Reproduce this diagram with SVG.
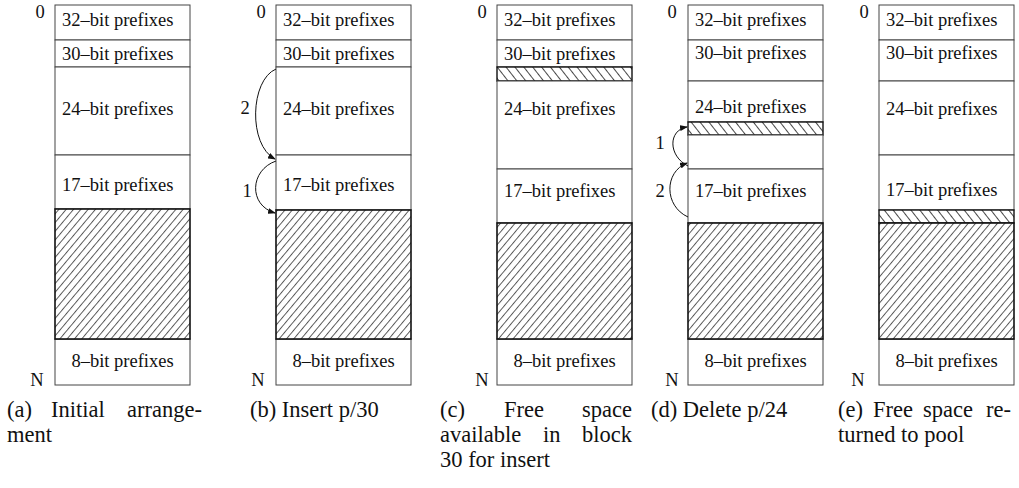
<svg xmlns="http://www.w3.org/2000/svg" width="1019" height="488" viewBox="0 0 1019 488">
<style>
text{font-family:"Liberation Serif","Times New Roman",serif;fill:#111}
.t{font-size:18.5px}
.c{font-size:22.5px}
.m{text-anchor:middle}
.e{text-anchor:end}
.box{fill:#fff;stroke:#444;stroke-width:1}
.hf{fill:url(#fwd);stroke:#111;stroke-width:1.6}
.hb{fill:url(#bwd);stroke:#111;stroke-width:1.4}
.arr{fill:none;stroke:#111;stroke-width:1;marker-end:url(#ah)}
</style>
<defs>
<pattern id="fwd" width="5.6" height="10" patternUnits="userSpaceOnUse" patternTransform="rotate(40)">
<rect width="5.6" height="10" fill="#fff"/>
<line x1="0.5" y1="-1" x2="0.5" y2="11" stroke="#444" stroke-width="0.9"/>
</pattern>
<pattern id="bwd" width="7" height="10" patternUnits="userSpaceOnUse" patternTransform="rotate(-38)">
<rect width="7" height="10" fill="#fff"/>
<line x1="0.5" y1="-1" x2="0.5" y2="11" stroke="#333" stroke-width="0.9"/>
</pattern>
<marker id="ah" markerWidth="8" markerHeight="6" refX="7" refY="3" orient="auto" markerUnits="userSpaceOnUse">
<path d="M0,0 L8,3 L0,6 Z" fill="#111"/>
</marker>
</defs>

<g id="col-a">
<g id="a-32"><rect class="box" x="55" y="5" width="135" height="35"/><text class="t" x="62" y="26">32–bit prefixes</text></g>
<g id="a-30"><rect class="box" x="55" y="40" width="135" height="27"/><text class="t" x="62" y="60">30–bit prefixes</text></g>
<g id="a-24"><rect class="box" x="55" y="67" width="135" height="88"/><text class="t" x="62" y="115">24–bit prefixes</text></g>
<g id="a-17"><rect class="box" x="55" y="155" width="135" height="54"/><text class="t" x="62" y="191">17–bit prefixes</text></g>
<g id="a-8"><rect class="box" x="55" y="339" width="135" height="46"/><text class="t m" x="122.5" y="367">8–bit prefixes</text></g>
<g id="a-free"><rect class="hf" x="55" y="209" width="135" height="130"/></g>
<text class="t m" x="40" y="18">0</text>
<text class="t m" x="37" y="386">N</text>
</g>

<g id="col-b">
<g id="b-32"><rect class="box" x="276" y="5" width="135" height="35"/><text class="t" x="283" y="26">32–bit prefixes</text></g>
<g id="b-30"><rect class="box" x="276" y="40" width="135" height="27"/><text class="t" x="283" y="60">30–bit prefixes</text></g>
<g id="b-24"><rect class="box" x="276" y="67" width="135" height="88"/><text class="t" x="283" y="115">24–bit prefixes</text></g>
<g id="b-17"><rect class="box" x="276" y="155" width="135" height="55"/><text class="t" x="283" y="191">17–bit prefixes</text></g>
<g id="b-8"><rect class="box" x="276" y="339" width="135" height="46"/><text class="t m" x="343.5" y="367">8–bit prefixes</text></g>
<g id="b-free"><rect class="hf" x="276" y="210" width="135" height="129"/></g>
<text class="t m" x="261" y="18">0</text>
<text class="t m" x="258" y="386">N</text>
</g>

<g id="col-c">
<g id="c-32"><rect class="box" x="497" y="5" width="135" height="35"/><text class="t" x="504" y="26">32–bit prefixes</text></g>
<g id="c-30"><rect class="box" x="497" y="40" width="135" height="27"/><text class="t" x="504" y="60">30–bit prefixes</text></g>
<g id="c-30free"><rect class="hb" x="497" y="67" width="135" height="14"/></g>
<g id="c-24"><rect class="box" x="497" y="81" width="135" height="88"/><text class="t" x="504" y="115">24–bit prefixes</text></g>
<g id="c-17"><rect class="box" x="497" y="169" width="135" height="54"/><text class="t" x="504" y="197">17–bit prefixes</text></g>
<g id="c-8"><rect class="box" x="497" y="339" width="135" height="46"/><text class="t m" x="564.5" y="367">8–bit prefixes</text></g>
<g id="c-free"><rect class="hf" x="497" y="223" width="135" height="116"/></g>
<text class="t m" x="482" y="18">0</text>
<text class="t m" x="482" y="386">N</text>
</g>

<g id="col-d">
<g id="d-32"><rect class="box" x="688" y="5" width="135" height="35"/><text class="t" x="695" y="26">32–bit prefixes</text></g>
<g id="d-30"><rect class="box" x="688" y="40" width="135" height="41"/><text class="t" x="695" y="59">30–bit prefixes</text></g>
<g id="d-24"><rect class="box" x="688" y="81" width="135" height="41"/><text class="t" x="695" y="113">24–bit prefixes</text></g>
<g id="d-24free"><rect class="hb" x="688" y="122" width="135" height="13"/></g>
<g id="d-gap"><rect class="box" x="688" y="135" width="135" height="34"/></g>
<g id="d-17"><rect class="box" x="688" y="169" width="135" height="54"/><text class="t" x="695" y="197">17–bit prefixes</text></g>
<g id="d-8"><rect class="box" x="688" y="339" width="135" height="46"/><text class="t m" x="755.5" y="367">8–bit prefixes</text></g>
<g id="d-free"><rect class="hf" x="688" y="223" width="135" height="116"/></g>
<text class="t m" x="672" y="18">0</text>
<text class="t m" x="672" y="386">N</text>
</g>

<g id="col-e">
<g id="e-32"><rect class="box" x="879" y="5" width="135" height="35"/><text class="t" x="886" y="26">32–bit prefixes</text></g>
<g id="e-30"><rect class="box" x="879" y="40" width="135" height="41"/><text class="t" x="886" y="59">30–bit prefixes</text></g>
<g id="e-24"><rect class="box" x="879" y="81" width="135" height="74"/><text class="t" x="886" y="115">24–bit prefixes</text></g>
<g id="e-17"><rect class="box" x="879" y="155" width="135" height="55"/><text class="t" x="886" y="196">17–bit prefixes</text></g>
<g id="e-returned"><rect class="hb" x="879" y="210" width="135" height="13"/></g>
<g id="e-8"><rect class="box" x="879" y="339" width="135" height="46"/><text class="t m" x="946.5" y="367">8–bit prefixes</text></g>
<g id="e-free"><rect class="hf" x="879" y="223" width="135" height="116"/></g>
<text class="t m" x="864" y="18">0</text>
<text class="t m" x="858" y="386">N</text>
</g>

<g id="connectors">
<path class="arr" d="M276,69 C250,80 248,145 275,159"/>
<path class="arr" d="M276,161 C250,170 248,205 275,213"/>
<path class="arr" d="M688,166 C668,156 668,130 687,127"/>
<path class="arr" d="M688,217 C664,206 664,172 687,163"/>
<text class="t m" x="245" y="114">2</text>
<text class="t m" x="247" y="197">1</text>
<text class="t m" x="660" y="149">1</text>
<text class="t m" x="660" y="197">2</text>
</g>

<g id="captions">
<text class="c"><tspan x="7" y="417">(a)</tspan><tspan x="51" y="417">Initial</tspan><tspan class="e" x="202" y="417">arrange-</tspan><tspan x="7" y="442">ment</tspan></text>
<text class="c" x="250" y="417">(b) Insert p/30</text>
<text class="c"><tspan x="440" y="417">(c)</tspan><tspan x="504" y="417">Free</tspan><tspan class="e" x="632" y="417">space</tspan><tspan x="440" y="442">available</tspan><tspan x="543" y="442">in</tspan><tspan class="e" x="632" y="442">block</tspan><tspan x="440" y="467">30 for insert</tspan></text>
<text class="c" x="651" y="417">(d) Delete p/24</text>
<text class="c"><tspan x="838" y="417">(e)</tspan><tspan x="873" y="417">Free</tspan><tspan x="923" y="417">space</tspan><tspan class="e" x="1011" y="417">re-</tspan><tspan x="838" y="442">turned to pool</tspan></text>
</g>
</svg>
